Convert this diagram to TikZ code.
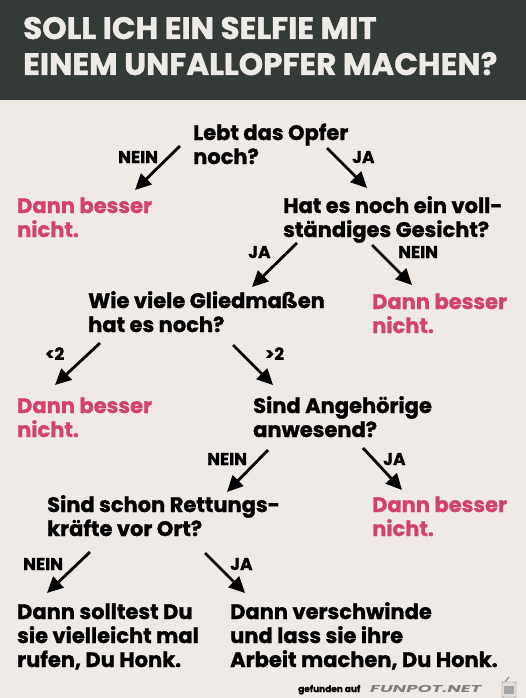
\documentclass[tikz,border=0pt]{standalone}
\usepackage{fontspec}
\setmainfont{Poppins}[BoldFeatures={FakeBold=1.2}]
\usetikzlibrary{arrows.meta}
\definecolor{hdrcol}{HTML}{343A38}
\definecolor{bgcol}{HTML}{F0EAE7}
\definecolor{pinkcol}{HTML}{D2436B}
\definecolor{titlecol}{HTML}{EEEAE5}
\tikzset{
  txt/.style={anchor=base west,align=left,inner sep=0pt,font=\fontsize{21}{24}\selectfont\bfseries},
  quest/.style={txt,text=black},
  ans/.style={txt,text=pinkcol},
  lbl/.style={anchor=base west,inner sep=0pt,font=\fontsize{17}{20}\selectfont\bfseries},
  arr/.style={line width=2.8pt,-{Triangle[length=16pt,width=15pt]}},
}
\begin{document}
\begin{tikzpicture}[x=1pt,y=-1pt]
  \useasboundingbox (0,0) rectangle (526,698);
  \fill[bgcol] (0,0) rectangle (526,698);
  % header (base anchor = last line)
  \fill[hdrcol] (0,0) rectangle (526,100);
  \node[anchor=base west,align=left,inner sep=0pt,text=titlecol,
        font=\fontsize{31}{36}\selectfont\bfseries] (title) at (23,75)
        {SOLL ICH EIN SELFIE MIT\\EINEM UNFALLOPFER MACHEN?};
  % questions
  \node[quest] (q1) at (193,164) {Lebt das Opfer\\noch?};
  \node[quest] (q2) at (283,237) {Hat es noch ein voll-\\ständiges Gesicht?};
  \node[quest] (q3) at (88,332) {Wie viele Gliedmaßen\\hat es noch?};
  \node[quest] (q4) at (253,437) {Sind Angehörige\\anwesend?};
  \node[quest] (q5) at (47,536) {Sind schon Rettungs-\\kräfte vor Ort?};
  % answers
  \node[ans] (a1) at (17,237) {Dann besser\\nicht.};
  \node[ans] (a2) at (372,333) {Dann besser\\nicht.};
  \node[ans] (a3) at (17,437) {Dann besser\\nicht.};
  \node[ans] (a4) at (372,536) {Dann besser\\nicht.};
  \node[quest] (e1) at (17,667) {Dann solltest Du\\sie vielleicht mal\\rufen, Du Honk.};
  \node[quest] (e2) at (230,667) {Dann verschwinde\\und lass sie ihre\\Arbeit machen, Du Honk.};
  % arrow ends
  \coordinate (q1l) at (180,146);  \coordinate (a1t) at (135,190);
  \coordinate (q1r) at (327,148);  \coordinate (q2t) at (367,188);
  \coordinate (q2l) at (297,243);  \coordinate (q3t) at (252,287);
  \coordinate (q2r) at (372,245);  \coordinate (a2t) at (412,285);
  \coordinate (q3l) at (100,343);  \coordinate (a3t) at (55,385);
  \coordinate (q3r) at (233,345);  \coordinate (q4t) at (273,385);
  \coordinate (q4l) at (268,450);  \coordinate (q5t) at (227,492);
  \coordinate (q4r) at (363,448);  \coordinate (a4t) at (402,490);
  \coordinate (q5l) at (90,552);   \coordinate (e1t) at (47,593);
  \coordinate (q5r) at (205,553);  \coordinate (e2t) at (245,593);
  \foreach \s/\t in {q1l/a1t,q1r/q2t,q2l/q3t,q2r/a2t,q3l/a3t,q3r/q4t,q4l/q5t,q4r/a4t,q5l/e1t,q5r/e2t}
    \draw[arr] (\s) -- (\t);
  % labels
  \node[lbl] (n1) at (118,163) {NEIN};
  \node[lbl] (j1) at (352,163) {JA};
  \node[lbl] (j2) at (248,258) {JA};
  \node[lbl] (n2) at (398,258) {NEIN};
  \node[lbl] (lt) at (45,360) {<2};
  \node[lbl] (gt) at (265,360) {>2};
  \node[lbl] (n3) at (207,465) {NEIN};
  \node[lbl] (j3) at (383,465) {JA};
  \node[lbl] (n4) at (23,570) {NEIN};
  \node[lbl] (j4) at (230,570) {JA};
  % footer
  \node[anchor=base west,inner sep=0pt,font=\fontsize{9}{10}\selectfont\bfseries] (fnd) at (298,692) {gefunden auf};
  \node[anchor=base west,inner sep=0pt,text=gray,font=\fontsize{10}{12}\selectfont\bfseries\itshape] (fp) at (370,692) {\scalebox{1.8}[1]{FUNPOT.NET}};
  \draw[gray,fill=gray!25,rounded corners=1pt] (502,682) rectangle (516,697);
  \fill[gray!70] (504,686) rectangle (514,694);
  \draw[gray,line width=1pt] (505,682) -- (509,677);
\end{tikzpicture}
\end{document}
